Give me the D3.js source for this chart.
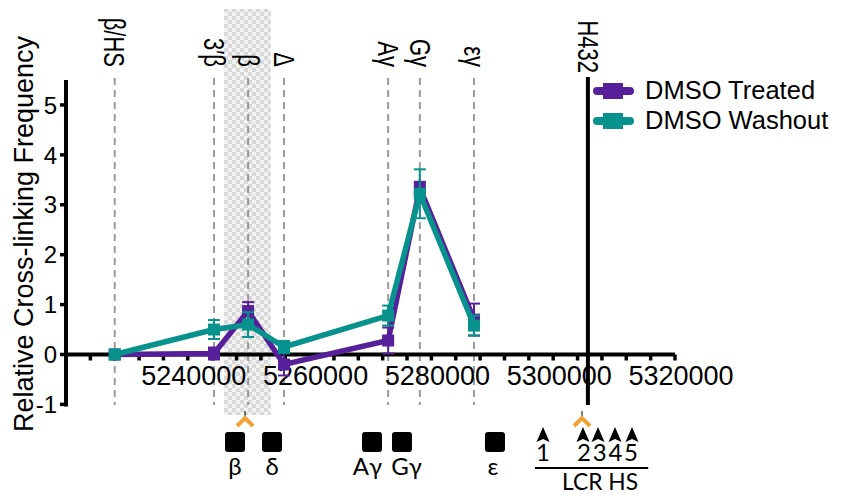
<!DOCTYPE html>
<html>
<head>
<meta charset="utf-8">
<script src="https://cdn.jsdelivr.net/npm/d3@7"></script>
<style>
  html, body { margin: 0; padding: 0; background: #fff; }
  svg { display: block; }
</style>
</head>
<body>
<div id="chart"></div>
<script>
// Genomic positions of the probed fragments (anchor H432 interactions)
const fragmentLabels = ["β/HS", "3′β", "β", "Δ", "Aγ", "Gγ", "εγ"];
const fragmentPos = [5228000, 5244300, 5249900, 5255800, 5272900, 5278100, 5287000];

// Relative cross-linking frequency, mean and error
const treatedMean = [0, 0.02, 0.87, -0.2, 0.28, 3.34, 0.7];
const treatedErr = [0, 0.12, 0.18, 0.22, 0.26, 0.12, 0.32];
const washoutMean = [0, 0.5, 0.6, 0.15, 0.78, 3.22, 0.58];
const washoutErr = [0, 0.19, 0.25, 0.12, 0.2, 0.49, 0.2];

const seriesNames = ["DMSO Treated", "DMSO Washout"];
const seriesColors = ["#56209a", "#07928d"];

// Anchor fragment and shaded β region
const anchorLabel = "H432";
const anchorPos = 5305700;
const shadeRange = [5245950, 5253650];

// Axis ticks
const xTickLabels = [5240000, 5260000, 5280000, 5300000, 5320000];
const yTickLabels = [-1, 0, 1, 2, 3, 4, 5];

// Gene map below the axis
const geneNames = ["β", "δ", "Aγ", "Gγ", "ε"];
const genePos = [5247750, 5253830, 5270250, 5275170, 5290440];
const geneLabelPos = [5247750, 5253830, 5269500, 5275900, 5290100];
const hsNames = ["1", "2", "3", "4", "5"];
const hsPos = [5298330, 5304890, 5307360, 5310150, 5312940];
const hsSpan = [5297000, 5315600];
const primerPos = [5249400, 5304730];

const W = 843, H = 495;
const svg = d3.select("#chart").append("svg").attr("width", W).attr("height", H);

const x = d3.scaleLinear().domain([5220000, 5320000]).range([66, 675]);
const y = d3.scaleLinear().domain([-1, 5.5]).range([404.4, 80]);

// checkered fill for the shaded region
const defs = svg.append("defs");
const pat = defs.append("pattern").attr("id", "checker")
  .attr("width", 8).attr("height", 8).attr("patternUnits", "userSpaceOnUse");
pat.append("rect").attr("width", 8).attr("height", 8).attr("fill", "#f3f3f3");
pat.append("rect").attr("width", 4).attr("height", 4).attr("fill", "#d8d8d8");
pat.append("rect").attr("x", 4).attr("y", 4).attr("width", 4).attr("height", 4).attr("fill", "#d8d8d8");

svg.append("rect")
  .attr("x", x(shadeRange[0])).attr("y", 9)
  .attr("width", x(shadeRange[1]) - x(shadeRange[0])).attr("height", 406)
  .attr("fill", "url(#checker)");

// dashed guides at each fragment
svg.append("g").selectAll("line").data(fragmentPos).join("line")
  .attr("x1", d => x(d)).attr("x2", d => x(d))
  .attr("y1", 78).attr("y2", 405)
  .attr("stroke", "#9a9a9a").attr("stroke-width", 2)
  .attr("stroke-dasharray", "7,5");

// rotated fragment labels
const labelFont = "'Liberation Sans', Arial, sans-serif";
svg.append("g").selectAll("text").data(fragmentLabels).join("text")
  .attr("transform", (d, i) => `translate(${x(fragmentPos[i])},67) scale(1.3,1) rotate(90)`)
  .attr("text-anchor", "end").attr("dy", "0.36em")
  .attr("font-family", labelFont).attr("font-size", 22)
  .text(d => d);

// anchor line
svg.append("line")
  .attr("x1", x(anchorPos)).attr("x2", x(anchorPos))
  .attr("y1", 77).attr("y2", 405)
  .attr("stroke", "#000").attr("stroke-width", 4);
svg.append("text")
  .attr("transform", `translate(${x(anchorPos)},73) scale(1.3,1) rotate(90)`)
  .attr("text-anchor", "end").attr("dy", "0.36em")
  .attr("font-family", labelFont).attr("font-size", 22)
  .text(anchorLabel);

// y axis
const yAxis = svg.append("g").attr("transform", `translate(${x.range()[0]},0)`);
yAxis.append("line").attr("x1", 0).attr("x2", 0)
  .attr("y1", y(5.5)).attr("y2", y(-1) + 2)
  .attr("stroke", "#000").attr("stroke-width", 4);
yAxis.selectAll("line.tk").data(yTickLabels).join("line").attr("class", "tk")
  .attr("x1", -6).attr("x2", 0).attr("y1", d => y(d)).attr("y2", d => y(d))
  .attr("stroke", "#000").attr("stroke-width", 3.5);
yAxis.selectAll("text").data(yTickLabels).join("text")
  .attr("x", -9).attr("y", d => y(d)).attr("dy", "0.36em")
  .attr("text-anchor", "end")
  .attr("font-family", labelFont).attr("font-size", 24)
  .text(d => d);

// x axis
const xMinor = d3.range(5224000, 5320001, 4000);
const xAxis = svg.append("g").attr("transform", `translate(0,${y(0)})`);
xAxis.append("line").attr("x1", x.range()[0]).attr("x2", x.range()[1])
  .attr("y1", 0).attr("y2", 0).attr("stroke", "#000").attr("stroke-width", 4);
xAxis.selectAll("line.tk").data(xMinor).join("line").attr("class", "tk")
  .attr("x1", d => x(d)).attr("x2", d => x(d)).attr("y1", 0).attr("y2", 6)
  .attr("stroke", "#000").attr("stroke-width", 3.5);
xAxis.selectAll("text").data(xTickLabels).join("text")
  .attr("x", d => x(d) + 6).attr("y", 31)
  .attr("text-anchor", "middle")
  .attr("font-family", labelFont).attr("font-size", 27)
  .text(d => d);

// y axis title
svg.append("text")
  .attr("transform", "translate(33,234) rotate(-90)")
  .attr("text-anchor", "middle")
  .attr("font-family", labelFont).attr("font-size", 27)
  .text("Relative Cross-linking Frequency");

// data series
const series = [
  { mean: treatedMean, err: treatedErr },
  { mean: washoutMean, err: washoutErr }
];
const line = d3.line().x((d, i) => x(fragmentPos[i])).y(d => y(d));

series.forEach((s, k) => {
  const col = seriesColors[k];
  const g = svg.append("g");
  g.append("path").datum(s.mean).attr("d", line)
    .attr("fill", "none").attr("stroke", col).attr("stroke-width", 5.5)
    .attr("stroke-linejoin", "miter");
  const eb = g.selectAll("g.eb").data(s.mean.map((m, i) => ({ m, e: s.err[i], p: fragmentPos[i] })))
    .join("g").attr("class", "eb").filter(d => d.e > 0);
  eb.append("line").attr("x1", d => x(d.p)).attr("x2", d => x(d.p))
    .attr("y1", d => y(d.m - d.e)).attr("y2", d => y(d.m + d.e))
    .attr("stroke", col).attr("stroke-width", 2);
  eb.append("line").attr("x1", d => x(d.p) - 6).attr("x2", d => x(d.p) + 6)
    .attr("y1", d => y(d.m + d.e)).attr("y2", d => y(d.m + d.e))
    .attr("stroke", col).attr("stroke-width", 2);
  eb.append("line").attr("x1", d => x(d.p) - 6).attr("x2", d => x(d.p) + 6)
    .attr("y1", d => y(d.m - d.e)).attr("y2", d => y(d.m - d.e))
    .attr("stroke", col).attr("stroke-width", 2);
  g.selectAll("rect").data(s.mean).join("rect")
    .attr("x", (d, i) => x(fragmentPos[i]) - 6).attr("y", d => y(d) - 6)
    .attr("width", 12).attr("height", 12).attr("fill", col);
});

// legend
const legend = svg.append("g");
seriesNames.forEach((name, k) => {
  const ly = 91 + k * 30;
  legend.append("line").attr("x1", 597).attr("x2", 630).attr("y1", ly).attr("y2", ly)
    .attr("stroke", seriesColors[k]).attr("stroke-width", 8).attr("stroke-linecap", "round");
  legend.append("rect").attr("x", 603).attr("y", ly - 8).attr("width", 20).attr("height", 16)
    .attr("fill", seriesColors[k]);
  legend.append("text").attr("x", 645).attr("y", ly + 8)
    .attr("font-family", labelFont).attr("font-size", 25.5)
    .text(name);
});

// gene map
const mapFont = "Lato, 'Open Sans', sans-serif";
const map = svg.append("g");
primerPos.forEach(p => {
  map.append("line").attr("x1", x(p)).attr("x2", x(p)).attr("y1", 411).attr("y2", 417)
    .attr("stroke", "#000").attr("stroke-width", 1);
  map.append("path")
    .attr("d", `M${x(p) - 8},${426} L${x(p)},${418} L${x(p) + 8},${426}`)
    .attr("fill", "none").attr("stroke", "#f5a033").attr("stroke-width", 4);
});
map.selectAll("rect.gene").data(genePos).join("rect").attr("class", "gene")
  .attr("x", d => x(d) - 10).attr("y", 432).attr("width", 20).attr("height", 20)
  .attr("rx", 3).attr("fill", "#000");
map.selectAll("text.gene").data(geneNames).join("text").attr("class", "gene")
  .attr("x", (d, i) => x(geneLabelPos[i])).attr("y", 475)
  .attr("text-anchor", "middle")
  .attr("font-family", mapFont).attr("font-size", 24)
  .text(d => d);
map.selectAll("path.hs").data(hsPos).join("path").attr("class", "hs")
  .attr("d", d => `M${x(d)},427 L${x(d) + 6.5},442 L${x(d)},439 L${x(d) - 6.5},442 Z`)
  .attr("fill", "#000");
// HS1 stands alone; HS2–5 sit shoulder to shoulder and are set as one run
map.append("text")
  .attr("x", x(hsPos[0])).attr("y", 461)
  .attr("text-anchor", "middle")
  .attr("font-family", mapFont).attr("font-size", 24)
  .text(hsNames[0]);
map.append("text")
  .attr("x", x(hsPos[1]) - 6).attr("y", 461)
  .attr("font-family", mapFont).attr("font-size", 24)
  .attr("textLength", x(hsPos[4]) - x(hsPos[1]) + 12).attr("lengthAdjust", "spacing")
  .text(hsNames.slice(1).join(""));
map.append("line").attr("x1", x(hsSpan[0])).attr("x2", x(hsSpan[1]))
  .attr("y1", 468).attr("y2", 468).attr("stroke", "#000").attr("stroke-width", 2);
map.append("text").attr("x", 600).attr("y", 490)
  .attr("text-anchor", "middle")
  .attr("font-family", mapFont).attr("font-size", 23)
  .attr("textLength", 76).attr("lengthAdjust", "spacingAndGlyphs")
  .text("LCR HS");
</script>
</body>
</html>
